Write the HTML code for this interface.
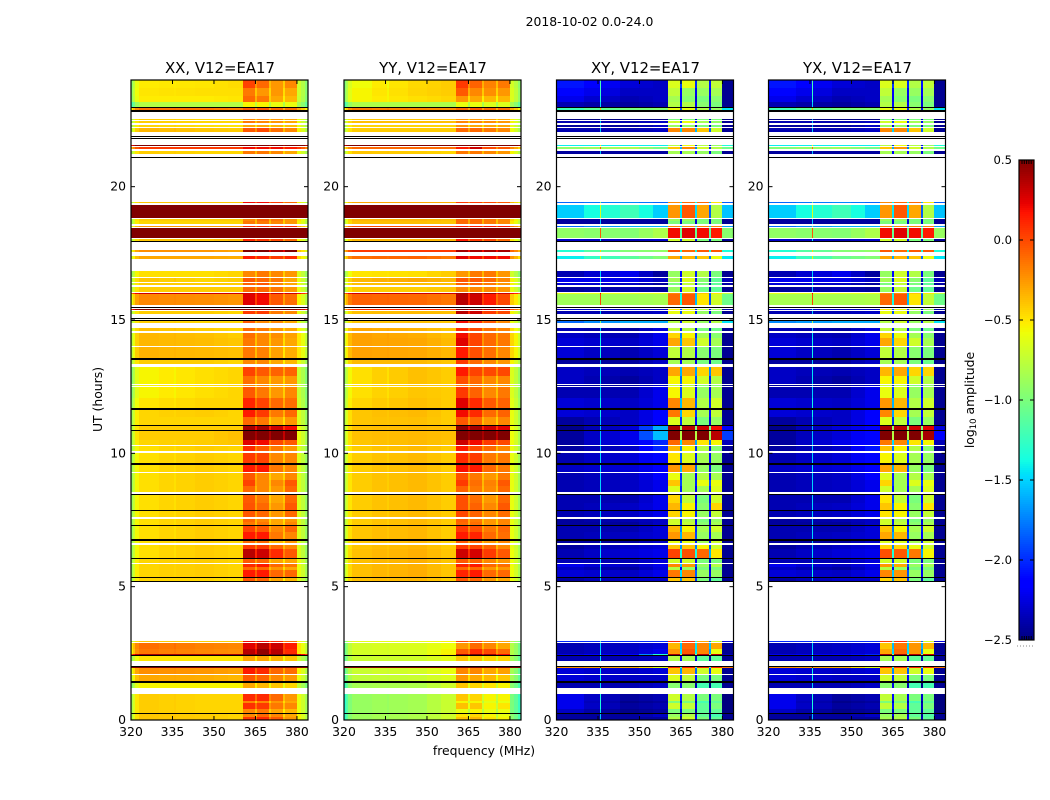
<!DOCTYPE html>
<html>
<head>
<meta charset="utf-8">
<title>2018-10-02 0.0-24.0</title>
<style>
html,body{margin:0;padding:0;background:#fff;}
svg{display:block;}
text{font-family:"DejaVu Sans","Liberation Sans",sans-serif;fill:#000;}
</style>
</head>
<body>
<svg id="fig" width="1050" height="800" viewBox="0 0 1050 800" xmlns="http://www.w3.org/2000/svg">
<text x="589.5" y="26" font-size="12.4" text-anchor="middle">2018-10-02 0.0-24.0</text>
<text x="0" y="0" font-size="12.4" text-anchor="middle" transform="translate(102,399.5) rotate(-90)">UT (hours)</text>
<text x="484" y="755" font-size="12.4" text-anchor="middle">frequency (MHz)</text>
<text x="0" y="0" font-size="12.4" text-anchor="middle" transform="translate(974,400) rotate(-90)">log<tspan font-size="8.5" dy="2">10</tspan><tspan dy="-2"> amplitude</tspan></text>
</svg>
<script>
const panelTitles = ["XX, V12=EA17","YY, V12=EA17","XY, V12=EA17","YX, V12=EA17"];
const xTicks = [320,335,350,365,380];
const yTicks = [0,5,10,15,20];
const colorTicks = [0.5,0,-0.5,-1,-1.5,-2,-2.5];
const colorTickLabels = ["0.5","0.0","\u22120.5","\u22121.0","\u22121.5","\u22122.0","\u22122.5"];
const freqEdges = [320,320.7,321.5,323,330,335.7,336.1,343,350,355,360.4,364.8,365.5,369.9,370.7,375,375.7,379.9,381.5,383,384];
const columnRegions = [[0],[0],[0],[0],[0,1],[0],[0,1,1],[1],[1,2],[2],[3],[3,4],[4],[4,5],[5],[5,6],[6],[7],[7],[7]];
const autoOffsets = [-.4,-.25,-.08,0,0,0,0,0,0,0,0,-.2,0,-.2,0,-.2,0,0,-.1,-.25];
const crossOffsets = [-.12,-.12,-.12,-.12,-.12,.75,-.12,-.12,-.12,-.12,0,-1.3,0,-1.3,0,-1.3,0,-.05,-.05,-.05];
const flaggedBins = [[.22,.27],[1.38,1.445],[1.985,2.01],[2.39,2.43],[5.17,5.22],[5.31,5.37],[6.02,6.07],[6.73,6.77],[7.27,7.33],[7.82,7.87],[8.43,8.47],[9.58,9.62],[10.83,10.86],[11.03,11.07],[11.62,11.65],[11.68,11.71],[13.49,13.52],[13.55,13.58],[14.96,15],[15.03,15.07],[15.46,15.49],[17.93,17.96],[21.08,21.11],[21.78,21.81],[21.89,21.91],[22.81,22.87],[22.96,22.99]];
const timeBins = [[0,.105],[.13,.22],[.27,.41],[.41,.62],[.62,.73],[.73,.99],[1.19,1.38],[1.445,1.68],[1.71,1.96],[1.96,1.985],[2.21,2.39],[2.43,2.49],[2.49,2.68],[2.68,2.88],[2.92,2.98],[5.22,5.31],[5.37,5.61],[5.61,5.72],[5.72,5.85],[5.88,6.02],[6.07,6.43],[6.43,6.58],[6.62,6.73],[6.77,7.04],[7.04,7.27],[7.33,7.41],[7.43,7.55],[7.62,7.82],[7.87,8.12],[8.12,8.43],[8.54,8.76],[8.76,8.99],[8.99,9.25],[9.31,9.58],[9.62,10.03],[10.08,10.26],[10.3,10.49],[10.49,10.83],[10.86,11.03],[11.07,11.35],[11.35,11.62],[11.65,11.68],[11.71,12.06],[12.06,12.49],[12.52,12.55],[12.59,12.89],[12.89,13.23],[13.34,13.49],[13.52,13.55],[13.58,13.99],[14.02,14.31],[14.31,14.53],[14.58,14.7],[14.88,14.95],[15.22,15.33],[15.39,15.43],[15.58,15.98],[15.98,16.02],[16.05,16.24],[16.3,16.39],[16.41,16.57],[16.62,16.83],[17.28,17.4],[17.54,17.62],[17.96,18.03],[18.08,18.45],[18.48,18.53],[18.59,18.7],[18.72,18.78],[18.83,19.31],[19.38,19.42],[21.22,21.34],[21.41,21.48],[21.51,21.58],[22.06,22.21],[22.24,22.3],[22.37,22.46],[22.5,22.52],[22.87,22.97],[22.99,23.17],[23.17,23.39],[23.39,23.7],[23.7,24]];
const xxLevels = [
[-.4,-.42,-.45,.05,.1,-.05,-.25,-.55],[-.4,-.42,-.45,-.2,-.1,-.2,-.3,-.55],[-.42,-.45,-.45,-.2,-.15,-.3,-.35,-.6],[-.42,-.45,-.45,.08,.05,-.15,-.2,-.6],[-.42,-.45,-.45,-.2,-.2,-.25,-.3,-.6],[-.42,-.45,-.45,.1,.1,-.1,-.25,-.6],
[-.55,-.55,-.55,-.3,-.35,-.4,-.45,-.75],[-.3,-.32,-.35,-.05,-.08,-.2,-.25,-.6],[-.22,-.25,-.28,.15,.1,-.1,-.12,-.55],[.9,.9,.9,.9,.9,.9,.9,.9],[-.5,-.5,-.5,-.3,-.3,-.35,-.4,-.7],[.4,.4,.4,.7,.7,.7,.7,.3],[-.15,-.2,-.22,.35,.45,.35,.1,-.5],[-.12,-.18,-.2,.25,.35,.3,.15,-.5],[-.4,-.42,-.42,.2,.2,.1,-.1,-.55],
[-.45,-.45,-.48,-.05,-.1,-.3,-.35,-.65],[-.45,-.42,-.45,.15,.15,-.1,-.1,-.6],[-.45,-.42,-.45,-.1,-.1,-.25,-.3,-.6],[-.45,-.42,-.45,.1,.15,-.1,-.15,-.6],[-.45,-.42,-.45,-.05,-.1,-.3,-.3,-.6],[-.48,-.42,-.45,.35,.3,.1,-.05,-.65],[-.48,-.42,-.45,.05,.05,-.1,-.2,-.65],[-.48,-.42,-.45,-.1,-.1,-.35,-.25,-.65],[-.48,-.42,-.45,.15,.15,-.15,-.2,-.65],[-.48,-.42,-.45,.02,-.05,-.2,-.1,-.65],
[-.48,-.42,-.45,-.15,-.15,-.3,-.2,-.65],[-.48,-.42,-.45,-.1,-.2,-.3,-.25,-.65],[-.48,-.42,-.45,-.05,-.1,-.25,-.1,-.65],[-.48,-.42,-.45,-.03,-.1,-.25,-.05,-.65],[-.48,-.42,-.45,-.05,-.15,-.3,-.1,-.65],[-.48,-.42,-.45,-.1,-.2,-.25,-.1,-.65],[-.48,-.42,-.45,.02,-.2,-.2,-.05,-.65],[-.48,-.42,-.45,-.05,-.2,-.3,-.2,-.65],[-.48,-.42,-.45,.15,.15,-.15,-.2,-.65],[-.48,-.42,-.45,.05,.02,-.2,-.2,-.65],[-.48,-.42,-.45,.1,-.05,-.15,-.25,-.65],
[-.45,-.42,-.4,.25,.2,0,-.05,-.6],[-.42,-.42,-.38,.6,.6,.55,.5,-.6],[-.42,-.42,-.42,.4,.4,.3,.2,-.6],[-.45,-.45,-.45,-.1,-.15,-.3,-.25,-.65],[-.45,-.42,-.45,.15,.05,-.15,-.1,-.65],[-.45,-.42,-.45,-.2,-.2,-.3,-.3,-.65],[-.5,-.45,-.45,.12,.02,-.1,-.12,-.7],[-.55,-.48,-.45,-.05,-.15,-.25,-.2,-.72],[-.55,-.48,-.45,-.2,-.2,-.3,-.3,-.72],[-.55,-.48,-.45,-.12,-.2,-.25,-.25,-.72],[-.55,-.48,-.45,.02,-.05,-.08,-.08,-.72],
[-.42,-.42,-.45,-.2,-.2,-.3,-.35,-.62],[-.42,-.42,-.45,-.2,-.2,-.3,-.35,-.62],[-.34,-.36,-.38,-.15,-.18,-.28,-.32,-.5],[-.35,-.37,-.4,-.15,-.2,-.25,-.3,-.5],[-.35,-.38,-.42,-.12,-.2,-.22,-.28,-.5],[-.38,-.42,-.45,-.1,-.15,-.25,-.3,-.55],[-.42,-.45,-.45,-.05,-.2,-.2,-.3,-.65],
[-.42,-.42,-.45,.05,.05,-.15,-.2,-.6],[.5,.5,.5,.7,.7,.7,.7,.4],[-.2,-.22,-.25,.25,.2,-.05,-.12,-.55],[.3,.3,.3,.3,.3,.3,.3,.2],[-.42,-.42,-.42,-.1,-.1,-.15,-.25,-.6],[-.42,-.42,-.42,-.08,-.05,-.2,-.3,-.6],[-.4,-.45,-.42,-.05,-.1,-.15,-.3,-.6],[-.48,-.48,-.45,-.2,-.15,-.2,-.25,-.65],[-.3,-.3,-.32,.15,.12,.05,.1,-.45],[-.22,-.25,-.3,.5,.5,.4,.5,-.4],[-.4,-.4,-.35,.1,.05,0,-.1,-.55],[.9,.9,.9,.9,.9,.9,.9,.9],[-.25,-.25,-.25,.1,.1,.1,.1,-.3],[-.45,-.45,-.45,-.15,-.15,-.2,-.25,-.55],[-.42,-.42,-.42,-.2,-.1,-.15,-.25,-.5],[.9,.9,.9,.9,.9,.9,.9,.9],[-.4,-.4,-.4,.2,.2,.05,-.1,-.55],
[-.42,-.45,-.45,-.15,-.15,-.2,-.3,-.6],[.05,.05,.05,.2,.2,.2,.15,.05],[.6,.6,.6,.6,.6,.6,.6,.6],[-.35,-.4,-.42,-.05,0,-.12,-.2,-.55],[-.45,-.48,-.5,-.3,-.3,-.35,-.38,-.6],[-.42,-.45,-.45,-.15,-.2,-.25,-.3,-.6],[-.42,-.45,-.45,-.2,-.2,-.25,-.3,-.6],[-.12,-.14,-.18,-.05,-.05,-.1,-.12,-.3],[-.8,-.8,-.8,-.55,-.55,-.6,-.6,-.85],[-.52,-.52,-.5,-.1,-.15,-.3,-.35,-.72],[-.5,-.48,-.48,-.15,-.25,-.25,-.3,-.7],[-.52,-.5,-.47,.02,-.1,-.25,-.2,-.7]];
const yyLevels = [
[-.88,-.82,-.7,-.4,-.35,-.5,-.55,-.95],[-.88,-.82,-.7,-.5,-.45,-.55,-.6,-.95],[-.9,-.85,-.72,-.6,-.55,-.6,-.6,-1],[-.9,-.85,-.72,-.38,-.4,-.55,-.5,-1],[-.9,-.85,-.72,-.55,-.55,-.62,-.6,-1],[-.9,-.85,-.72,-.4,-.45,-.55,-.55,-1],
[-.85,-.82,-.7,-.4,-.45,-.5,-.55,-.95],[-.75,-.72,-.65,-.25,-.3,-.35,-.4,-.85],[-.72,-.68,-.6,-.2,-.2,-.3,-.28,-.85],[.9,.9,.9,.9,.9,.9,.9,.9],[-.72,-.7,-.62,-.4,-.4,-.45,-.45,-.85],[-.7,-.65,-.5,.4,.5,.4,.2,-.8],[-.68,-.66,-.55,-.05,.1,0,-.1,-.8],[-.68,-.65,-.58,-.25,-.1,-.2,-.3,-.8],[-.62,-.6,-.55,0,0,-.2,-.3,-.8],
[-.38,-.35,-.42,-.05,-.1,-.25,-.3,-.58],[-.38,-.32,-.4,.12,.15,-.1,-.1,-.58],[-.38,-.33,-.4,-.1,-.1,-.25,-.25,-.58],[-.38,-.33,-.4,.12,.15,-.1,-.12,-.58],[-.38,-.33,-.4,-.05,-.08,-.2,-.25,-.58],[-.38,-.33,-.4,.3,.28,.05,-.05,-.58],[-.4,-.35,-.42,.05,.02,-.08,-.2,-.6],[-.4,-.35,-.42,-.05,-.1,-.25,-.2,-.6],[-.4,-.35,-.42,.15,.12,-.1,-.12,-.6],[-.4,-.35,-.42,.05,-.02,-.15,-.1,-.6],
[-.42,-.36,-.42,-.1,-.12,-.25,-.2,-.6],[-.42,-.36,-.42,-.08,-.15,-.25,-.2,-.6],[-.42,-.36,-.42,0,-.08,-.2,-.12,-.6],[-.42,-.36,-.42,-.02,-.08,-.2,-.05,-.6],[-.42,-.36,-.42,-.02,-.12,-.25,-.1,-.6],[-.42,-.36,-.42,-.08,-.15,-.2,-.1,-.6],[-.42,-.36,-.42,.05,-.12,-.18,-.05,-.6],[-.42,-.36,-.42,-.02,-.15,-.25,-.15,-.6],[-.42,-.36,-.42,.18,.15,-.1,-.15,-.6],[-.42,-.36,-.42,.1,.05,-.15,-.15,-.6],[-.42,-.36,-.42,.15,0,-.1,-.2,-.6],
[-.4,-.36,-.4,.3,.2,.05,0,-.58],[-.38,-.36,-.38,.65,.6,.6,.5,-.58],[-.38,-.36,-.38,.45,.4,.3,.25,-.58],[-.4,-.38,-.42,-.05,-.1,-.25,-.2,-.6],[-.4,-.36,-.42,.2,.1,-.1,-.08,-.6],[-.4,-.36,-.42,-.15,-.15,-.25,-.25,-.6],[-.45,-.38,-.42,.25,.1,-.05,-.08,-.62],[-.48,-.4,-.42,.05,-.08,-.2,-.15,-.65],[-.48,-.4,-.42,-.15,-.15,-.25,-.25,-.65],[-.48,-.38,-.42,-.02,-.1,-.2,-.2,-.65],[-.48,-.38,-.42,.15,.02,0,0,-.65],
[-.36,-.36,-.4,.05,-.1,-.2,-.25,-.55],[-.36,-.36,-.4,.02,-.1,-.2,-.25,-.55],[-.28,-.3,-.35,.15,-.02,-.12,-.2,-.45],[-.28,-.3,-.36,.25,.02,-.1,-.15,-.45],[-.28,-.32,-.38,.2,.02,-.1,-.15,-.45],[-.3,-.34,-.4,.1,0,-.12,-.18,-.48],[-.4,-.38,-.4,.2,.1,-.05,-.2,-.6],
[-.38,-.36,-.38,.35,.3,.05,0,-.55],[.1,.1,.1,.5,.5,.4,.3,0],[-.08,-.1,-.15,.35,.3,.15,0,-.42],[.3,.3,.3,.4,.4,.4,.3,.2],[-.42,-.42,-.4,-.2,-.2,-.2,-.25,-.6],[-.38,-.38,-.38,-.08,-.08,-.15,-.25,-.55],[-.35,-.3,-.35,-.05,-.05,-.1,-.2,-.55],[-.5,-.48,-.42,-.25,-.15,-.15,-.25,-.7],[-.12,-.08,-.15,.25,.2,.2,.2,-.25],[.05,.05,.05,.4,.4,.4,.4,-.1],[-.35,-.35,-.35,.15,.05,0,-.1,-.5],[.9,.9,.9,.9,.9,.9,.9,.9],[0,0,0,.15,.15,.15,.15,-.1],[-.38,-.38,-.4,-.1,-.1,-.15,-.2,-.5],[-.35,-.35,-.38,-.1,-.1,-.15,-.2,-.45],[.9,.9,.9,.9,.9,.9,.9,.9],[-.3,-.3,-.32,.05,.05,0,-.05,-.35],
[-.4,-.42,-.45,-.15,-.15,-.2,-.25,-.55],[-.1,-.1,-.12,.15,.3,0,-.05,-.2],[.7,.7,.7,.7,.7,.7,.7,.7],[-.42,-.42,-.42,-.1,-.1,-.15,-.2,-.58],[-.45,-.45,-.45,-.25,-.3,-.3,-.3,-.6],[-.38,-.38,-.38,-.2,-.2,-.22,-.25,-.55],[-.4,-.4,-.4,-.25,-.25,-.28,-.3,-.55],[-.15,-.2,-.22,-.1,-.05,-.1,-.12,-.3],[-.82,-.82,-.82,-.6,-.6,-.65,-.65,-.85],[-.55,-.48,-.45,-.25,-.3,-.35,-.35,-.65],[-.55,-.45,-.42,-.05,-.2,-.22,-.25,-.65],[-.58,-.46,-.42,.05,-.08,-.18,-.15,-.68]];
const xyLevels = [
[-2.3,-2.3,-2.3,-.8,-.7,-1,-1.1,-2.4],[-2.3,-2.3,-2.2,-.9,-.8,-1.1,-1.2,-2.4],[-2.2,-2.35,-2.3,-1,-1,-1.1,-1.1,-2.45],[-2.1,-2.3,-2.25,-.7,-.75,-1.1,-1,-2.45],[-2.1,-2.35,-2.3,-1,-1,-1.2,-1.1,-2.45],[-2.1,-2.3,-2.25,-.7,-.8,-1,-1,-2.45],
[-2.25,-2.25,-2.2,-.95,-.95,-1.2,-1.2,-2.4],[-2.15,-2.2,-2.2,-.65,-.75,-1,-1,-2.4],[-2.15,-2.2,-2.15,-.4,-.35,-.7,-.6,-2.4],[-.1,-.2,-.5,.1,.15,.1,.1,-.1],[-2.25,-2.25,-2.2,-.8,-.85,-1.1,-1.1,-2.4],[-2.1,-2,-1.2,.4,.45,.35,.35,-2.3],[-2.25,-2.2,-2.1,-.25,-.05,-.2,-.6,-2.4],[-2.25,-2.2,-2.15,-.35,-.1,-.2,-.3,-2.4],[-1.9,-1.9,-1.9,.1,.1,-.3,-.7,-2.2],
[-2.3,-2.2,-2.2,-.4,-.4,-1,-1.1,-2.4],[-2.15,-2.2,-2.1,-.15,-.2,-.9,-.9,-2.4],[-2.2,-2.3,-2.15,-.8,-.9,-1,-1,-2.4],[-2.1,-2.2,-2.1,-.2,-.25,-.9,-.8,-2.4],[-2.25,-2.25,-2.15,-.7,-.7,-1,-1,-2.4],[-2.25,-2.15,-2.1,.02,-.02,-.1,-.5,-2.4],[-2.3,-2.2,-2.15,-.4,-.4,-.55,-.7,-2.4],[-2.3,-2.3,-2.2,-.6,-.6,-.85,-.7,-2.4],[-2.25,-2.2,-2.15,-.25,-.35,-.9,-.85,-2.4],[-2.25,-2.25,-2.15,-.35,-.55,-.85,-.7,-2.4],
[-2.3,-2.3,-2.2,-.7,-.75,-.95,-.85,-2.4],[-2.3,-2.25,-2.2,-.7,-.8,-1,-.9,-2.4],[-2.25,-2.2,-2.1,-.45,-.55,-.9,-.75,-2.4],[-2.25,-2.2,-2.1,-.35,-.55,-.95,-.45,-2.4],[-2.25,-2.25,-2.1,-.45,-.75,-1,-.7,-2.4],[-2.25,-2.2,-2.1,-.65,-.85,-.85,-.65,-2.4],[-2.25,-2.2,-2.1,-.4,-.85,-.6,-.6,-2.4],[-2.25,-2.2,-2.05,-.6,-.85,-.8,-.85,-2.4],[-2.2,-2.15,-2.05,-.25,-.3,-.9,-1,-2.4],[-2.25,-2.15,-2,-.5,-.65,-.85,-.9,-2.4],[-2.3,-2.2,-1.9,-.35,-.55,-.8,-.95,-2.4],
[-2.3,-2.1,-1.9,-.1,-.2,-.5,-.55,-2.3],[-2.3,-2.1,-1.45,.5,.5,.5,.35,-1.9],[-2.35,-2.15,-1.5,.4,.35,.3,.2,-2.1],[-2.3,-2.2,-2.05,-.65,-.75,-1,-.9,-2.4],[-2.15,-2.2,-2.05,-.15,-.45,-.85,-.75,-2.4],[-2.3,-2.3,-2.2,-.8,-.9,-1,-1,-2.4],[-2.15,-2.2,-2.1,-.2,-.35,-.8,-.7,-2.4],[-2.25,-2.25,-2.1,-.55,-.65,-.9,-.85,-2.4],[-2.3,-2.3,-2.2,-.75,-.8,-1,-.95,-2.4],[-2.2,-2.3,-2.2,-.55,-.55,-.7,-.8,-2.4],[-2.2,-2.25,-2.2,-.3,-.3,-.45,-.4,-2.4],
[-2.3,-2.3,-2.2,-.85,-.85,-1,-1.05,-2.4],[-2.3,-2.3,-2.2,-.85,-.85,-1,-1.05,-2.4],[-2.15,-2.25,-2.15,-.75,-.8,-.95,-1,-2.4],[-2.15,-2.2,-2.1,-.3,-.4,-.7,-.85,-2.4],[-2.2,-2.25,-2.1,-.45,-.55,-.85,-.95,-2.4],[-2.25,-2.3,-2.15,-.75,-.8,-1,-1.05,-2.4],[-1.7,-1.5,-1.5,-.8,-.7,-.9,-.8,-1.4],
[-2.25,-2.25,-2.2,-.6,-.6,-.9,-1,-2.4],[-2.2,-2.2,-2.2,-.5,-.6,-.8,-.9,-2.35],[-.75,-.75,-.72,-.1,-.05,-.5,-.7,-1],[-.5,-.5,-.5,-.2,-.2,-.4,-.5,-.7],[-2.3,-2.25,-2.3,-.9,-.7,-1.05,-1.1,-2.4],[-2.15,-2.2,-2.3,-1,-.75,-1,-1.1,-2.35],[-2.1,-2.1,-2.2,-.85,-.65,-.95,-1.1,-2.3],[-2.25,-2.1,-2.3,-.9,-.7,-.8,-1,-2.4],[-1.3,-1,-.85,-.3,-.35,-.4,-.6,-1.4],[-1.2,-.85,-.8,-.05,-.1,-.05,-.05,-1.3],[-2.2,-2.25,-2.2,-.7,-.7,-1,-1,-2.4],[-.8,-.85,-.7,.2,.25,.2,.15,-.9],[-1.7,-1.5,-1.5,-.2,-.2,-.2,-.2,-1.6],[-2.3,-2.3,-2.3,-1,-1,-1,-1,-2.4],[-2.3,-2.3,-2.3,-.9,-.9,-1,-1,-2.4],[-1.4,-1.1,-1.4,-.25,-.05,-.3,-.8,-1.5],[-1.7,-1.6,-1.7,-.2,-.1,-.1,-.5,-1.8],
[-2.3,-2.3,-2.3,-.85,-.85,-.9,-1,-2.4],[-.8,-.7,-.9,-.4,-.2,-.7,-.8,-1],[-1.3,-1.3,-1.3,-.8,-.6,-.8,-.9,-1.3],[-2.25,-2.25,-2.2,-.2,-.2,-.4,-.7,-2.4],[-2.3,-2.3,-2.2,-.9,-.9,-1,-1,-2.4],[-2.25,-2.25,-2.2,-.7,-.6,-.85,-.9,-2.4],[-2.4,-2.4,-2.4,-1,-1,-1,-1,-2.45],[-1.1,-.9,-.85,-.6,-.6,-.8,-.9,-1.4],[-2.25,-2.3,-2.25,-.8,-.8,-.95,-1,-2.4],[-2.1,-2.25,-2.2,-.85,-.95,-1,-.95,-2.4],[-2,-2.2,-2.2,-.75,-.9,-.9,-.85,-2.4],[-1.95,-2.15,-2.2,-.65,-.6,-.8,-.75,-2.4]];
const yxLevels = [
[-2.3,-2.3,-2.3,-.85,-.8,-1,-1.1,-2.4],[-2.3,-2.3,-2.2,-.9,-.85,-1.1,-1.15,-2.4],[-2.2,-2.35,-2.3,-1,-1,-1.1,-1.1,-2.45],[-2.1,-2.3,-2.25,-.75,-.8,-1.1,-1,-2.45],[-2.1,-2.35,-2.3,-1,-1,-1.2,-1.1,-2.45],[-2.1,-2.3,-2.25,-.75,-.85,-1,-1,-2.45],
[-2.25,-2.25,-2.2,-.95,-.95,-1.2,-1.2,-2.4],[-2.15,-2.2,-2.2,-.7,-.75,-1,-1,-2.4],[-2.15,-2.2,-2.15,-.4,-.4,-.7,-.6,-2.4],[-.1,-.2,-.5,.1,.1,.1,.1,-.1],[-2.25,-2.25,-2.2,-.85,-.85,-1.1,-1.1,-2.4],[-2.1,-2.05,-1.9,.4,.4,.35,.3,-2.3],[-2.25,-2.2,-2.15,-.3,-.1,-.25,-.6,-2.4],[-2.25,-2.2,-2.15,-.4,-.15,-.25,-.35,-2.4],[-1.9,-1.9,-1.9,.05,.1,-.3,-.7,-2.2],
[-2.3,-2.2,-2.2,-.45,-.4,-1,-1.1,-2.4],[-2.15,-2.2,-2.1,-.2,-.25,-.9,-.9,-2.4],[-2.2,-2.3,-2.15,-.8,-.9,-1,-1,-2.4],[-2.1,-2.2,-2.1,-.25,-.3,-.9,-.85,-2.4],[-2.25,-2.25,-2.15,-.7,-.7,-1,-1,-2.4],[-2.25,-2.15,-2.1,-.02,-.05,-.15,-.55,-2.4],[-2.3,-2.2,-2.15,-.45,-.45,-.6,-.7,-2.4],[-2.3,-2.3,-2.2,-.65,-.65,-.85,-.7,-2.4],[-2.25,-2.2,-2.15,-.3,-.35,-.9,-.85,-2.4],[-2.25,-2.25,-2.15,-.4,-.55,-.85,-.7,-2.4],
[-2.3,-2.3,-2.2,-.7,-.75,-.95,-.85,-2.4],[-2.3,-2.25,-2.2,-.7,-.8,-1,-.9,-2.4],[-2.25,-2.2,-2.1,-.5,-.55,-.9,-.75,-2.4],[-2.25,-2.2,-2.1,-.4,-.55,-.95,-.5,-2.4],[-2.25,-2.25,-2.1,-.5,-.75,-1,-.7,-2.4],[-2.25,-2.2,-2.1,-.7,-.85,-.85,-.65,-2.4],[-2.25,-2.2,-2.1,-.45,-.85,-.65,-.6,-2.4],[-2.25,-2.2,-2.05,-.65,-.85,-.8,-.85,-2.4],[-2.2,-2.15,-2.05,-.3,-.35,-.9,-1,-2.4],[-2.25,-2.15,-2,-.55,-.65,-.85,-.9,-2.4],[-2.3,-2.2,-1.95,-.4,-.55,-.8,-.95,-2.4],
[-2.3,-2.1,-2,-.15,-.2,-.5,-.55,-2.3],[-2.3,-2.15,-2,.5,.5,.5,.4,-2.1],[-2.35,-2.15,-2.05,.4,.35,.3,.25,-2.2],[-2.3,-2.2,-2.05,-.65,-.75,-1,-.9,-2.4],[-2.15,-2.2,-2.05,-.2,-.45,-.85,-.75,-2.4],[-2.3,-2.3,-2.2,-.8,-.9,-1,-1,-2.4],[-2.15,-2.2,-2.1,-.25,-.35,-.8,-.7,-2.4],[-2.25,-2.25,-2.1,-.6,-.65,-.9,-.85,-2.4],[-2.3,-2.3,-2.2,-.75,-.8,-1,-.95,-2.4],[-2.2,-2.3,-2.2,-.55,-.55,-.7,-.8,-2.4],[-2.2,-2.25,-2.2,-.35,-.3,-.45,-.45,-2.4],
[-2.3,-2.3,-2.2,-.85,-.85,-1,-1.05,-2.4],[-2.3,-2.3,-2.2,-.85,-.85,-1,-1.05,-2.4],[-2.15,-2.25,-2.15,-.75,-.8,-.95,-1,-2.4],[-2.15,-2.2,-2.1,-.3,-.45,-.7,-.85,-2.4],[-2.2,-2.25,-2.1,-.45,-.6,-.85,-.95,-2.4],[-2.25,-2.3,-2.15,-.75,-.8,-1,-1.05,-2.4],[-1.6,-1.5,-1.5,-.8,-.7,-.9,-.8,-1.4],
[-2.25,-2.25,-2.2,-.6,-.6,-.9,-1,-2.4],[-2.2,-2.2,-2.2,-.5,-.6,-.8,-.9,-2.35],[-.72,-.72,-.7,-.1,-.05,-.5,-.75,-1],[-.5,-.5,-.5,-.2,-.2,-.4,-.5,-.7],[-2.3,-2.25,-2.3,-.9,-.75,-1.05,-1.1,-2.4],[-2.15,-2.2,-2.3,-1,-.75,-1,-1.1,-2.35],[-2.1,-2.1,-2.2,-.85,-.65,-.95,-1.1,-2.3],[-2.25,-2.1,-2.3,-.9,-.7,-.8,-1,-2.4],[-1.3,-.95,-.85,-.3,-.35,-.4,-.6,-1.4],[-1.2,-.85,-.8,-.05,-.1,-.05,-.05,-1.3],[-2.2,-2.25,-2.2,-.7,-.7,-1,-1,-2.4],[-.8,-.85,-.7,.2,.25,.2,.15,-.85],[-1.7,-1.5,-1.5,-.2,-.2,-.2,-.2,-1.6],[-2.3,-2.3,-2.3,-1,-1,-1,-1,-2.4],[-2.3,-2.3,-2.3,-.9,-.9,-1,-1,-2.4],[-1.4,-1.1,-1.4,-.25,-.05,-.3,-.8,-1.5],[-1.7,-1.6,-1.7,-.2,-.1,-.1,-.5,-1.8],
[-2.3,-2.3,-2.3,-.85,-.85,-.9,-1,-2.4],[-.85,-.75,-.9,-.4,-.25,-.7,-.8,-1],[-1.3,-1.3,-1.3,-.8,-.6,-.8,-.9,-1.3],[-2.25,-2.25,-2.2,-.2,-.2,-.4,-.7,-2.4],[-2.3,-2.3,-2.2,-.9,-.9,-1,-1,-2.4],[-2.25,-2.25,-2.2,-.7,-.6,-.85,-.9,-2.4],[-2.4,-2.4,-2.4,-1,-1,-1,-1,-2.45],[-1.1,-.9,-.85,-.6,-.6,-.8,-.9,-1.4],[-2.25,-2.3,-2.25,-.8,-.8,-.95,-1,-2.4],[-2.1,-2.25,-2.2,-.85,-.95,-1,-.95,-2.4],[-2,-2.2,-2.2,-.75,-.9,-.9,-.85,-2.4],[-1.95,-2.15,-2.2,-.65,-.65,-.8,-.75,-2.4]];

const panelLevels = [xxLevels,yyLevels,xyLevels,yxLevels];
const panelOffsets = [autoOffsets,autoOffsets,crossOffsets,crossOffsets];
const panelLeft = [131,344,556.5,768.5];
const panelWidth = 177;
const freqMin = 320, freqMax = 384, utMin = 0, utMax = 24, plotTop = 80, plotBottom = 720;
const colorMin = -2.5, colorMax = 0.5, cbLeft = 1019, cbRight = 1034, cbTop = 160, cbBottom = 640;
const jetRed = [[0,0],[.35,0],[.66,1],[.89,1],[1,.5]];
const jetGreen = [[0,0],[.125,0],[.375,1],[.64,1],[.91,0],[1,0]];
const jetBlue = [[0,.5],[.11,1],[.34,1],[.65,0],[1,0]];

const svg = document.getElementById('fig');
const NS = 'http://www.w3.org/2000/svg';
function mk(tag, attrs, parent) {
  const el = document.createElementNS(NS, tag);
  for (const k in attrs) el.setAttribute(k, attrs[k]);
  parent.appendChild(el);
  return el;
}
function ramp(table, t) {
  for (let i = 1; i < table.length; i++) {
    if (t <= table[i][0]) {
      const a = table[i-1], b = table[i];
      return a[1] + (b[1]-a[1]) * (t-a[0]) / (b[0]-a[0]);
    }
  }
  return table[table.length-1][1];
}
function jet(v) {
  const t = Math.max(0, Math.min(1, (v-colorMin)/(colorMax-colorMin)));
  return 'rgb(' + Math.round(255*ramp(jetRed,t)) + ',' + Math.round(255*ramp(jetGreen,t)) + ',' + Math.round(255*ramp(jetBlue,t)) + ')';
}
function xScale(p, f) { return panelLeft[p] + (f-freqMin)/(freqMax-freqMin)*panelWidth; }
function yScale(u) { return plotBottom - (u-utMin)/(utMax-utMin)*(plotBottom-plotTop); }
function colorY(v) { return cbBottom - (v-colorMin)/(colorMax-colorMin)*(cbBottom-cbTop); }

panelTitles.forEach(function (title, p) {
  const g = mk('g', {}, svg);
  
  
  const heat = mk('g', {'shape-rendering':'crispEdges'}, g);
  
  
  timeBins.forEach(function (bin, r) {
    const levels = panelLevels[p][r];
    for (let c = 0; c < columnRegions.length; c++) {
      const regions = columnRegions[c];
      let v = 0;
      regions.forEach(function (i) { v += levels[i]; });
      v = v/regions.length + panelOffsets[p][c];
      const x0 = Math.round(xScale(p, freqEdges[c]));
      const x1 = Math.round(xScale(p, freqEdges[c+1]));
      const y0 = Math.round(yScale(bin[1]));
      const y1 = Math.max(y0+1, Math.round(yScale(bin[0])));
      if (x1 <= x0) continue;
      const cell = mk('rect', {x:x0, y:y0, width:x1-x0, height:y1-y0, fill:jet(v)}, heat);
      
      
    }
  });
  flaggedBins.forEach(function (bin) {
    const y0 = Math.round(yScale(bin[1]));
    const y1 = Math.max(y0+1, Math.round(yScale(bin[0])));
    const line = mk('rect', {x:Math.round(panelLeft[p]), y:y0, width:panelWidth, height:y1-y0, fill:'#000'}, heat);
    
    
  });
  const frame = mk('rect', {x:panelLeft[p], y:plotTop, width:panelWidth, height:plotBottom-plotTop, fill:'none', stroke:'#000', 'stroke-width':1.2}, g);
  
  
  xTicks.forEach(function (t) {
    const x = xScale(p, t);
    const b = mk('line', {x1:x, x2:x, y1:plotBottom, y2:plotBottom-4, stroke:'#000'}, g);
    
    
    const u = mk('line', {x1:x, x2:x, y1:plotTop, y2:plotTop+4, stroke:'#000'}, g);
    
    
    const lab = mk('text', {x:x, y:736, 'font-size':12.4, 'text-anchor':'middle'}, g);
    lab.textContent = t;
    
    
  });
  yTicks.forEach(function (t) {
    const y = yScale(t);
    const l = mk('line', {x1:panelLeft[p], x2:panelLeft[p]+4, y1:y, y2:y, stroke:'#000'}, g);
    
    
    const rt = mk('line', {x1:panelLeft[p]+panelWidth, x2:panelLeft[p]+panelWidth-4, y1:y, y2:y, stroke:'#000'}, g);
    
    
    const lab = mk('text', {x:panelLeft[p]-5, y:y+4, 'font-size':12.4, 'text-anchor':'end'}, g);
    lab.textContent = t;
    
    
  });
  const head = mk('text', {x:panelLeft[p]+panelWidth/2+.5, y:73, 'font-size':14.9, 'text-anchor':'middle'}, g);
  head.textContent = title;
  
  
});

const cb = mk('g', {}, svg);


const cbCells = mk('g', {'shape-rendering':'crispEdges'}, cb);


for (let py = cbTop; py < cbBottom; py += 2) {
  const v = colorMax - (py+1-cbTop)/(cbBottom-cbTop)*(colorMax-colorMin);
  const seg = mk('rect', {x:cbLeft, y:py, width:cbRight-cbLeft, height:2, fill:jet(v)}, cbCells);
  
  
}
const cbFrame = mk('rect', {x:cbLeft, y:cbTop, width:cbRight-cbLeft, height:cbBottom-cbTop, fill:'none', stroke:'#000', 'stroke-width':1.2}, cb);


colorTicks.forEach(function (t, i) {
  const y = colorY(t);
  const a = mk('line', {x1:cbLeft, x2:cbLeft+4, y1:y, y2:y, stroke:'#000'}, cb);
  
  
  const b = mk('line', {x1:cbRight, x2:cbRight-4, y1:y, y2:y, stroke:'#000'}, cb);
  
  
  const lab = mk('text', {x:1012, y:y+4, 'font-size':11.6, 'text-anchor':'end'}, cb);
  lab.textContent = colorTickLabels[i];
  
  
});
for (let k = 0; k < 5; k++) {
  const tx = cbLeft + 3 + k*2.3;
  const up = mk('line', {x1:tx, x2:tx, y1:cbTop, y2:cbTop+4, stroke:'#000'}, cb);
  
  
  const dn = mk('line', {x1:tx, x2:tx, y1:cbBottom, y2:cbBottom-4, stroke:'#000'}, cb);
  
  
}
const dots = mk('line', {x1:1017, x2:1035, y1:646, y2:646, stroke:'#888', 'stroke-width':1, 'stroke-dasharray':'1 2'}, cb);


</script>
</body>
</html>
